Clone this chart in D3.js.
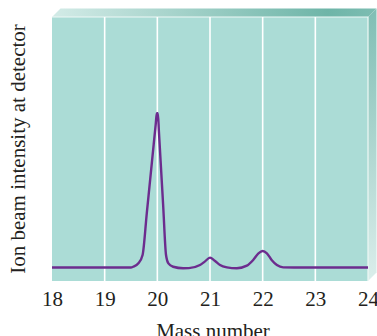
<!DOCTYPE html>
<html>
<head>
<meta charset="utf-8">
<script src="https://cdn.jsdelivr.net/npm/d3@7"></script>
<style>
  html, body { margin: 0; padding: 0; background: #ffffff; }
  svg { display: block; }
  text { font-family: "Liberation Serif", "Times New Roman", serif; fill: #231f20; }
</style>
</head>
<body>
<svg id="chart_svg" width="377" height="336"></svg>
<script>
// mass spectrum trace (intensity: baseline 0, Ne-20 peak 100)
const massNumbers = [18, 19, 19.5, 19.54, 19.64, 19.72, 19.8, 19.9, 19.97, 19.99, 20.01, 20.03, 20.06, 20.11, 20.165,
  20.21, 20.3, 20.49, 20.6, 20.81, 20.9, 21, 21.09, 21.19, 21.32, 21.51, 21.7, 21.82, 21.92, 22, 22.08, 22.17,
  22.27, 22.39, 22.6, 23, 24];
const intensity = [0, 0, 0, 0.5, 2.7, 8.1, 35.3, 69.3, 93.2, 100, 100, 88.1, 70.3, 40.7, 8.1,
  2.7, 0.5, -0.5, -0.4, 1.6, 3.8, 6.4, 4.4, 1.6, 0.1, -0.5, 1.2, 4.9, 9.2, 10.7, 9.2, 4.9,
  1.6, 0.1, 0, 0, 0];
const tickValues = [18, 19, 20, 21, 22, 23, 24];
const xTitle = "Mass number";
const yTitle = "Ion beam intensity at detector";

const data = massNumbers.map((m, i) => ({ mass: m, value: intensity[i] }));

const svg = d3.select("#chart_svg");

const margin = { top: 17, left: 52, right: 9, bottom: 55 };
const width = 377, height = 336;
const plotRight = width - margin.right;   // 368
const plotBottom = height - margin.bottom; // 281
const depth = 8.5;

const xScale = d3.scaleLinear().domain([18, 24]).range([margin.left, plotRight]);
const yScale = d3.scaleLinear().domain([0, 100]).range([267.5, 113.3]);

// gradients for the 3D box look
const defs = svg.append("defs");
const topGrad = defs.append("linearGradient").attr("id", "topGrad")
  .attr("x1", "0").attr("x2", "1").attr("y1", "0").attr("y2", "0");
topGrad.append("stop").attr("offset", "0").attr("stop-color", "#d3ebe7");
topGrad.append("stop").attr("offset", "0.85").attr("stop-color", "#6eb5a8");
topGrad.append("stop").attr("offset", "1").attr("stop-color", "#7dbdb2");
const sideGrad = defs.append("linearGradient").attr("id", "sideGrad")
  .attr("x1", "0").attr("x2", "0").attr("y1", "0").attr("y2", "1");
sideGrad.append("stop").attr("offset", "0").attr("stop-color", "#7fbeb4");
sideGrad.append("stop").attr("offset", "1").attr("stop-color", "#dbeeeb");

// top bevel
svg.append("polygon")
  .attr("points", [
    [margin.left, margin.top], [margin.left + depth, margin.top - depth],
    [plotRight + depth, margin.top - depth], [plotRight, margin.top]
  ].join(" "))
  .attr("fill", "url(#topGrad)");

// right side face
svg.append("polygon")
  .attr("points", [
    [plotRight, margin.top], [plotRight + depth, margin.top - depth],
    [plotRight + depth, plotBottom - depth], [plotRight, plotBottom]
  ].join(" "))
  .attr("fill", "url(#sideGrad)");

// front face
svg.append("rect")
  .attr("x", margin.left)
  .attr("y", margin.top)
  .attr("width", plotRight - margin.left)
  .attr("height", plotBottom - margin.top)
  .attr("fill", "#abdcd6");

// edge highlights
svg.append("path")
  .attr("d", `M${margin.left},${margin.top}H${plotRight}V${plotBottom}`)
  .attr("fill", "none")
  .attr("stroke", "#eef8f6")
  .attr("stroke-width", 1.2);

// vertical grid lines
svg.append("g")
  .selectAll("line")
  .data(tickValues.slice(1, -1))
  .join("line")
  .attr("x1", d => xScale(d))
  .attr("x2", d => xScale(d))
  .attr("y1", margin.top)
  .attr("y2", plotBottom)
  .attr("stroke", "#ffffff")
  .attr("stroke-width", 1.6);

// trace
const line = d3.line()
  .x(d => xScale(d.mass))
  .y(d => yScale(d.value))
  .curve(d3.curveMonotoneX);

svg.append("path")
  .datum(data)
  .attr("fill", "none")
  .attr("stroke", "#6c2c8e")
  .attr("stroke-width", 2.4)
  .attr("stroke-linejoin", "round")
  .attr("d", line);

// x axis labels
const xAxis = d3.axisBottom(xScale).tickValues(tickValues).tickSize(0).tickFormat(d3.format("d"));
const gx = svg.append("g")
  .attr("transform", `translate(0,${plotBottom})`)
  .call(xAxis);
gx.select(".domain").remove();
gx.selectAll("text")
  .attr("y", 25)
  .attr("dy", 0)
  .attr("font-family", "Liberation Serif, serif")
  .attr("font-size", 21)
  .attr("fill", "#231f20");

// axis titles
svg.append("text")
  .attr("x", 213)
  .attr("y", 338)
  .attr("text-anchor", "middle")
  .attr("font-size", 21)
  .text(xTitle);

svg.append("text")
  .attr("transform", "translate(25,149) rotate(-90)")
  .attr("text-anchor", "middle")
  .attr("font-size", 21)
  .text(yTitle);
</script>
</body>
</html>
